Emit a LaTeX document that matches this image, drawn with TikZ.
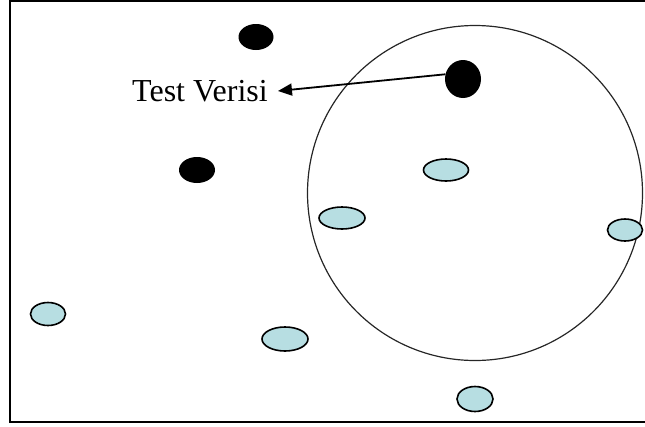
\documentclass[tikz,border=0pt]{standalone}
\usepackage{fontspec}
\setmainfont{Liberation Serif}
\usetikzlibrary{shapes.geometric, arrows.meta}
\definecolor{sample-blue}{HTML}{B7DEE2}

\begin{document}
\begin{tikzpicture}[x=1pt, y=-1pt,
        sample/.style={ellipse, draw=black, line width=1.6pt, fill=sample-blue, inner sep=0pt},
        testpt/.style={ellipse, fill=black, inner sep=0pt}]
  \useasboundingbox (0,0) rectangle (645,426);
  % frame, open on the right side
  \draw[line width=2.2pt] (645,1) -- (10,1) -- (10,422) -- (645,422);
  % neighbourhood circle
  \node[circle, draw=black!85, line width=1.2pt, minimum size=335pt, inner sep=0pt] (R) at (475,193) {};
  % test points
  \node[testpt, minimum width=35pt, minimum height=26pt] (T1) at (256,37) {};
  \node[testpt, minimum width=36pt, minimum height=26pt] (T2) at (197,170) {};
  \node[testpt, minimum width=36pt, minimum height=38pt] (T3) at (463,79) {};
  % training samples
  \node[sample, minimum width=45pt, minimum height=22pt] (S1) at (446,170) {};
  \node[sample, minimum width=46pt, minimum height=22pt] (S2) at (342,218) {};
  \node[sample, minimum width=35pt, minimum height=22pt] (S3) at (625,230) {};
  \node[sample, minimum width=35pt, minimum height=23pt] (S4) at (48,314) {};
  \node[sample, minimum width=46pt, minimum height=24pt] (S5) at (285,339) {};
  \node[sample, minimum width=36pt, minimum height=25pt] (S6) at (475,399) {};
  % label
  \node[font=\fontsize{32pt}{38pt}\selectfont, inner xsep=10pt, inner ysep=0pt] (V) at (200,91) {Test Verisi};
  \draw[line width=1.8pt, -{Triangle[length=14pt, width=12pt]}] (T3.165) -- (V.east);
\end{tikzpicture}
\end{document}
